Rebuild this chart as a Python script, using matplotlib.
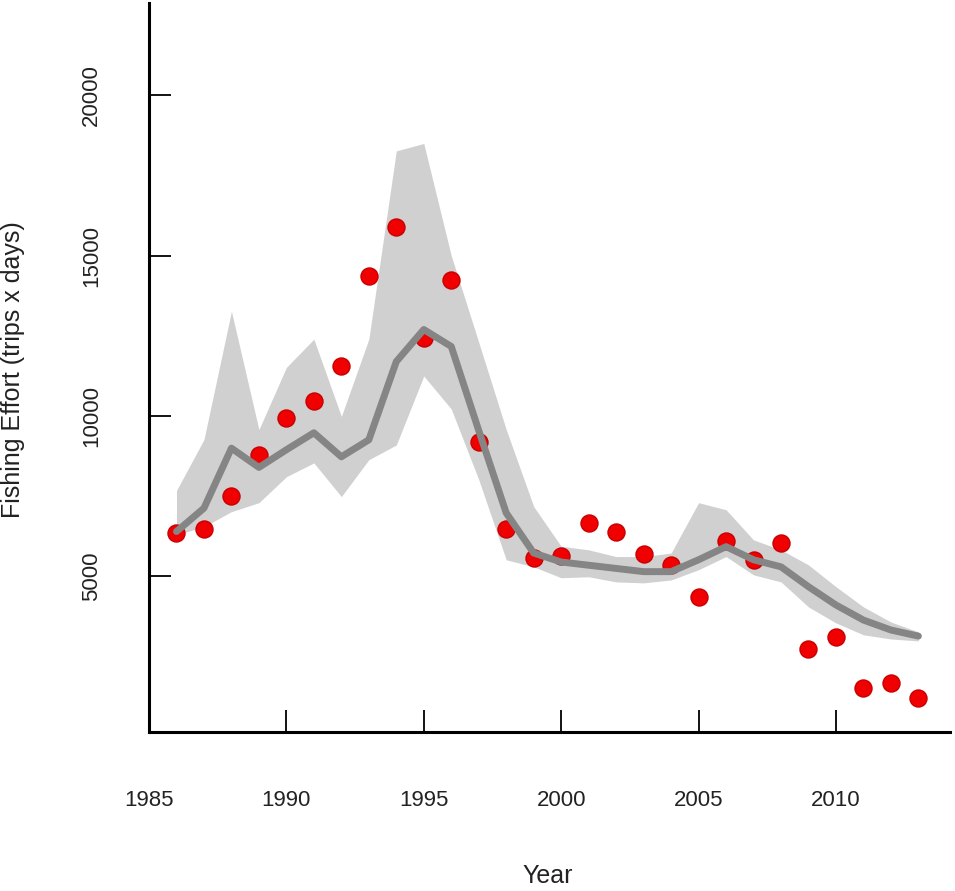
import matplotlib
matplotlib.use("Agg")
import matplotlib.pyplot as plt
import numpy as np

plt.rcParams['font.family'] = ['Liberation Sans', 'DejaVu Sans']

years = np.arange(1986, 2014)
observed = [6360, 6480, 7510, 8790, 9940, 10470, 11560, 14370, 15900, 12440,
            14250, 9200, 6480, 5580, 5640, 6670, 6390, 5700, 5360, 4360,
            6110, 5520, 6050, 2740, 3120, 1530, 1680, 1210]
fitted = [6400, 7130, 9000, 8400, 8950, 9480, 8730, 9260, 11700, 12700,
          12170, 9550, 6980, 5730, 5450, 5350, 5250, 5150, 5150, 5520,
          5930, 5520, 5300, 4680, 4110, 3640, 3330, 3140]
upper = [7680, 9270, 13270, 9580, 11520, 12400, 9990, 12400, 18270, 18500,
         15000, 12300, 9580, 7180, 5940, 5830, 5620, 5620, 5730, 7300,
         7080, 6140, 5830, 5360, 4680, 4050, 3580, 3270]
lower = [6300, 6550, 7020, 7300, 8110, 8540, 7490, 8640, 9100, 11250,
         10220, 8020, 5520, 5300, 4960, 4990, 4830, 4800, 4890, 5210,
         5620, 5050, 4830, 4050, 3550, 3180, 3050, 2990]
xticks = [1985, 1990, 1995, 2000, 2005, 2010]
yticks = [5000, 10000, 15000, 20000]

fig = plt.figure(figsize=(9.55, 8.91), dpi=100)
ax = fig.add_axes([149 / 955, 1 - 732 / 891, 801 / 955, 729 / 891])

ax.fill_between(years, lower, upper, color='#d0d0d0', linewidth=0, zorder=1)
ax.scatter(years, observed, s=150, color='#f00000', edgecolors='#c80000',
           linewidths=1, zorder=2)
ax.plot(years, fitted, color='#858585', linewidth=5, solid_capstyle='round',
        zorder=3)

ax.set_xlim(1985, 2014.15)
ax.set_ylim(150, 22880)

for side in ['top', 'right']:
    ax.spines[side].set_visible(False)
for side in ['left', 'bottom']:
    ax.spines[side].set_linewidth(2.2)
    ax.spines[side].set_color('black')

ax.set_xticks(xticks)
ax.set_yticks(yticks)
ax.tick_params(axis='x', direction='in', length=16, width=1.3, pad=42,
               labelsize=16, labelcolor='#222222')
ax.tick_params(axis='y', direction='in', length=16, width=1.3, pad=34,
               labelsize=16, labelcolor='#222222')
for lab in ax.get_yticklabels():
    lab.set_rotation(90)
    lab.set_va('center')

fig.text(548 / 955, 1 - 876 / 891, 'Year', fontsize=18, color='#222222',
         ha='center', va='center')
fig.text(13 / 955, 1 - 370 / 891, 'Fishing Effort (trips x days)', fontsize=18,
         color='#222222', rotation=90, ha='center', va='center')

fig.savefig('out.png', dpi=100)
